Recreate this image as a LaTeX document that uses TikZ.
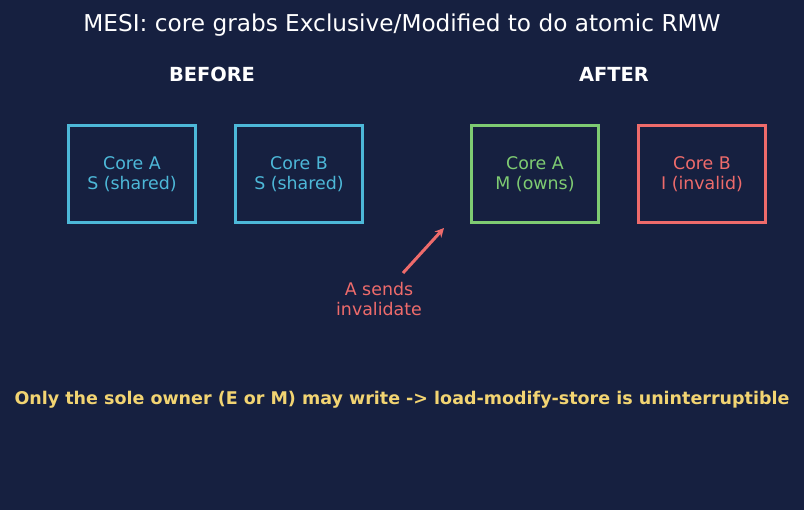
\documentclass[tikz,border=0pt]{standalone}
\usepackage{fontspec}
\setmainfont{DejaVu Sans}
\usepackage{xcolor}
\usetikzlibrary{positioning,calc,arrows.meta}

\definecolor{bgnavy}{HTML}{162040}
\definecolor{sharedcyan}{HTML}{4DB8D8}
\definecolor{ownsgreen}{HTML}{7ECB72}
\definecolor{invred}{HTML}{EE6B6B}
\definecolor{noteyellow}{HTML}{F2D472}

\begin{document}
\begin{tikzpicture}[x=1pt, y=-1pt,
    corebox/.style={draw=#1, text=#1, line width=3.4pt, minimum width=127pt,
        minimum height=97pt, align=center, inner sep=0pt,
        font=\fontsize{17.4}{20}\selectfont},
    heading/.style={text=white, font=\fontsize{19.4}{22}\selectfont\bfseries}]
    % background and page size
    \fill[bgnavy] (0,0) rectangle (804,510);

    \node[text=white, font=\fontsize{23.2}{26}\selectfont] (title) at (402,25)
        {MESI: core grabs Exclusive/Modified to do atomic RMW};
    \node[heading] (before) at (212,74) {BEFORE};
    \node[heading] (after) at (614,74) {AFTER};

    % caches before the write
    \node[corebox=sharedcyan] (coreA) at (132,174) {Core A\\S (shared)};
    \node[corebox=sharedcyan] (coreB) at (299,174) {Core B\\S (shared)};

    % caches after the write
    \node[corebox=ownsgreen] (coreAm) at (535,174) {Core A\\M (owns)};
    \node[corebox=invred] (coreBi) at (702,174) {Core B\\I (invalid)};

    % invalidate message
    \node[text=invred, align=center, font=\fontsize{17.4}{20}\selectfont] (inval)
        at (379,299) {A sends\\invalidate};
    \coordinate (sendfrom) at (403,273);
    \coordinate (sendto) at (444,228);
    \draw[invred, line width=3pt, -{Stealth[length=9pt,width=9pt]}] (sendfrom) -- (sendto);

    \node[text=noteyellow, font=\fontsize{17.5}{20}\selectfont\bfseries] (note) at (402,400)
        {Only the sole owner (E or M) may write -> load-modify-store is uninterruptible};
\end{tikzpicture}
\end{document}
